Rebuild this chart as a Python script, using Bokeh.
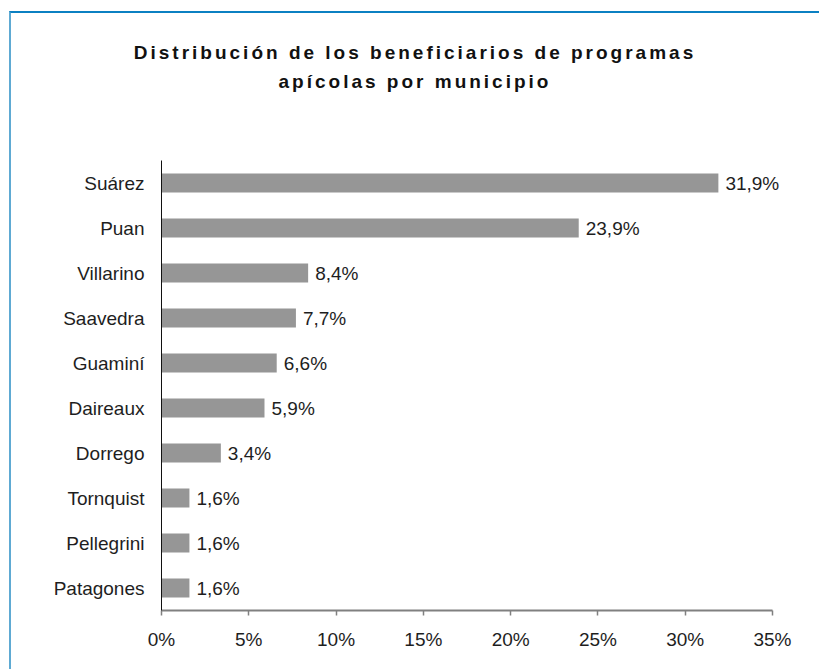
from bokeh.plotting import figure
from bokeh.models import Range1d, FactorRange, FixedTicker, PrintfTickFormatter, ColumnDataSource, Div
from bokeh.layouts import column
from bokeh.embed import file_html
from bokeh.resources import INLINE
from bokeh.core.properties import value

# ---- data ----
municipios = ["Suárez", "Puan", "Villarino", "Saavedra", "Guaminí",
              "Daireaux", "Dorrego", "Tornquist", "Pellegrini", "Patagones"]
porcentajes = [31.9, 23.9, 8.4, 7.7, 6.6, 5.9, 3.4, 1.6, 1.6, 1.6]
x_ticks = [0, 5, 10, 15, 20, 25, 30, 35]
title_lines = ["Distribución de los beneficiarios de programas",
               "apícolas por municipio"]

FONT = "Liberation Sans"
TXT = "#1e1e1e"
labels = [f"{v:.1f}".replace(".", ",") + "%" for v in porcentajes]
src = ColumnDataSource(dict(cat=municipios, val=porcentajes, lab=labels))

# axis drawn 0..35; frame extended to the right so value labels are not clipped
AX_MAX = 35
FRAME_AX_PX = 611      # pixels for 0..35
FRAME_PX = 651         # full frame width
p = figure(width=808, height=536,
           y_range=FactorRange(factors=list(reversed(municipios))),
           x_range=Range1d(0, AX_MAX * FRAME_PX / FRAME_AX_PX),
           output_backend="svg", toolbar_location=None,
           min_border_left=150, min_border_right=808 - 150 - FRAME_PX,
           min_border_top=27, min_border_bottom=59)
p.outline_line_color = None
p.grid.visible = False
p.background_fill_color = "white"
p.border_fill_color = "white"

p.hbar(y="cat", right="val", left=0, height=0.42, source=src,
       fill_color="#969696", line_color=None)
p.text(x="val", y="cat", text="lab", source=src, x_offset=7,
       text_baseline="middle", text_align="left",
       text_font=value(FONT), text_font_size="19px", text_color=TXT)

xa = p.xaxis[0]
xa.bounds = (0, AX_MAX)
xa.ticker = FixedTicker(ticks=x_ticks)
xa.formatter = PrintfTickFormatter(format="%d%%")
xa.axis_line_color = "#808080"
xa.axis_line_width = 2
xa.major_tick_line_color = "#808080"
xa.major_tick_line_width = 1.5
xa.major_tick_in = 0
xa.major_tick_out = 5
xa.minor_tick_line_color = None
xa.major_label_standoff = 13
xa.major_label_text_font = FONT
xa.major_label_text_font_size = "19px"
xa.major_label_text_color = TXT

ya = p.yaxis[0]
ya.axis_line_color = "#111111"
ya.axis_line_width = 1
ya.major_tick_line_color = None
ya.minor_tick_line_color = None
ya.major_label_standoff = 11
ya.major_label_text_font = FONT
ya.major_label_text_font_size = "19px"
ya.major_label_text_color = TXT

title_html = (
    "<div style=\"width:808px;text-align:center;font-family:'Liberation Sans';"
    "font-weight:bold;font-size:19px;letter-spacing:3px;line-height:29px;"
    "padding-top:25px;color:#111111\">"
    f"{title_lines[0]}<br>{title_lines[1]}</div>"
)
title_div = Div(text=title_html, width=808, height=120, margin=0)

layout = column(title_div, p, styles={
    "border-top": "2px solid #0b80c2",
    "border-left": "2px solid #5eaad3",
    "margin-top": "11px",
    "margin-left": "9px",
    "background-color": "white",
})

open("out.html", "w").write(file_html(layout, INLINE))
